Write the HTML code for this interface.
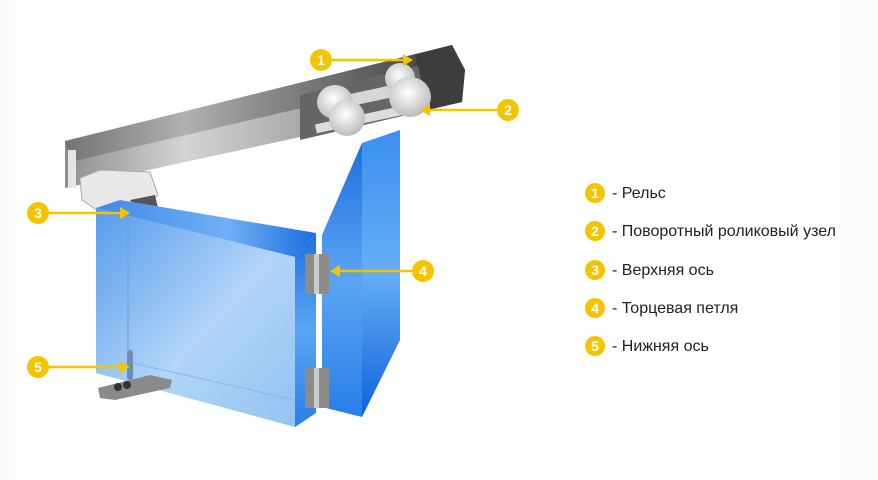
<!DOCTYPE html>
<html><head><meta charset="utf-8"><style>
html,body{margin:0;padding:0;background:#fff}
body{width:878px;height:480px;overflow:hidden}
svg{display:block}
text{font-family:"Liberation Sans",sans-serif}
</style></head><body>
<svg width="878" height="480" viewBox="0 0 878 480" xmlns="http://www.w3.org/2000/svg">
<defs>
<linearGradient id="bg" x1="0" x2="1" y1="0" y2="0">
<stop offset="0" stop-color="#f8f8f8"/><stop offset="0.025" stop-color="#fff"/><stop offset="0.95" stop-color="#fff"/><stop offset="0.96" stop-color="#fbfbfb"/></linearGradient>
<linearGradient id="rail" x1="0" x2="1" y1="0" y2="0">
<stop offset="0" stop-color="#6a6a6a"/><stop offset="0.3" stop-color="#a5a5a5"/><stop offset="0.5" stop-color="#7a7a7a"/><stop offset="0.8" stop-color="#4a4a4a"/><stop offset="1" stop-color="#333"/></linearGradient>
<linearGradient id="railf" x1="0" x2="1" y1="0" y2="0">
<stop offset="0" stop-color="#8e8e8e"/><stop offset="0.3" stop-color="#d4d4d4"/><stop offset="0.6" stop-color="#a8a8a8"/><stop offset="1" stop-color="#555"/></linearGradient>
<linearGradient id="glass" x1="0" x2="1" y1="0" y2="1">
<stop offset="0" stop-color="#4d96ea"/><stop offset="0.55" stop-color="#aed2f7"/><stop offset="1" stop-color="#8cc0f0"/></linearGradient>
<linearGradient id="gtop" x1="0" x2="1" y1="0" y2="0">
<stop offset="0" stop-color="#3e8ae6"/><stop offset="0.6" stop-color="#6fb0f5"/><stop offset="1" stop-color="#1a6ee0"/></linearGradient>
<linearGradient id="g2" x1="0" x2="0" y1="0" y2="1">
<stop offset="0" stop-color="#3b8ff0"/><stop offset="0.5" stop-color="#66adf5"/><stop offset="1" stop-color="#0d62dc"/></linearGradient>
<linearGradient id="gside" x1="0" x2="0" y1="0" y2="1">
<stop offset="0" stop-color="#1f6fe0"/><stop offset="0.5" stop-color="#5aa5f2"/><stop offset="1" stop-color="#2a7ee8"/></linearGradient>
<radialGradient id="wh" cx="0.45" cy="0.4" r="0.6"><stop offset="0" stop-color="#fff"/><stop offset="1" stop-color="#bcbcbc"/></radialGradient>
</defs>
<rect width="878" height="480" fill="url(#bg)"/>

<!-- back glass panel -->
<polygon points="362,143 400,130 400,340 362,417" fill="url(#g2)"/>
<polygon points="322,235 362,143 362,417 322,407" fill="url(#gside)"/>

<!-- rail -->
<polygon points="65,141 452,45 465,70 462,102 65,188" fill="url(#railf)"/>
<polygon points="65,141 452,45 465,70 70,162" fill="url(#rail)" opacity="0.75"/>
<polygon points="415,55 452,45 465,70 462,102 428,110" fill="#3d3d3d"/>
<polygon points="300,95 418,66 428,110 300,140" fill="#666"/>
<rect x="68" y="150" width="8" height="38" fill="#e6e6e6"/>
<!-- rollers -->
<rect x="320" y="92" width="95" height="12" fill="#d6d6d6" transform="rotate(-12 360 98)"/>
<rect x="315" y="115" width="90" height="9" fill="#ddd" transform="rotate(-12 360 120)"/>
<ellipse cx="400" cy="78" rx="15" ry="15" fill="url(#wh)"/>
<ellipse cx="335" cy="102" rx="18" ry="17" fill="url(#wh)"/>
<ellipse cx="347" cy="118" rx="18" ry="18" fill="url(#wh)"/>
<ellipse cx="410" cy="97" rx="21" ry="20" fill="url(#wh)"/>
<!-- top axis block -->
<polygon points="80,178 100,170 150,172 158,195 140,210 100,212 82,200" fill="#e8e8e8" stroke="#aaa" stroke-width="1"/>
<polygon points="130,200 155,195 158,208 140,212" fill="#555"/>

<!-- front glass panel -->
<polygon points="96,208 120,200 316,233 295,257" fill="url(#gtop)"/>
<polygon points="96,208 295,257 295,427 96,373" fill="url(#glass)" opacity="0.95"/>
<polygon points="295,257 316,233 316,413 295,427" fill="url(#gside)"/>
<line x1="128" y1="210" x2="128" y2="362" stroke="#6a9fd8" stroke-width="1"/>
<line x1="128" y1="362" x2="295" y2="400" stroke="#8ab8e6" stroke-width="1"/>
<!-- bottom axis -->
<polygon points="98,388 150,375 172,380 170,388 115,400 100,398" fill="#8a8a8a"/>
<circle cx="118" cy="387" r="4" fill="#333"/><circle cx="127" cy="385" r="4" fill="#333"/>
<rect x="127" y="350" width="6" height="30" rx="3" fill="#6e8fb5"/>
<!-- hinges -->
<rect x="305" y="254" width="24" height="40" fill="#8b8b8b"/><rect x="314" y="254" width="5" height="40" fill="#ccc"/>
<rect x="305" y="368" width="24" height="40" fill="#8b8b8b"/><rect x="314" y="368" width="5" height="40" fill="#ccc"/>

<!-- callouts -->
<g stroke="#f5c400" stroke-width="2.5" fill="#f5c400">
<line x1="330" y1="60" x2="405" y2="60"/><polygon points="413,60 403,54 403,66" stroke="none"/>
<line x1="497" y1="110" x2="428" y2="110"/><polygon points="420,110 430,104 430,116" stroke="none"/>
<line x1="48" y1="213" x2="122" y2="213"/><polygon points="130,213 120,207 120,219" stroke="none"/>
<line x1="412" y1="271" x2="338" y2="271"/><polygon points="330,271 340,265 340,277" stroke="none"/>
<line x1="48" y1="367" x2="122" y2="367"/><polygon points="130,367 120,361 120,373" stroke="none"/>
</g>
<g fill="#f5c400">
<circle cx="321" cy="60" r="11"/><circle cx="508" cy="110" r="11"/><circle cx="38" cy="213" r="11"/><circle cx="423" cy="271" r="11"/><circle cx="38" cy="367" r="11"/>
<circle cx="595" cy="193" r="10"/><circle cx="595" cy="231" r="10"/><circle cx="595" cy="270" r="10"/><circle cx="595" cy="308" r="10"/><circle cx="595" cy="346" r="10"/>
</g>
<g fill="#fff" font-size="14" font-weight="bold" text-anchor="middle">
<text x="321" y="65">1</text><text x="508" y="115">2</text><text x="38" y="218">3</text><text x="423" y="276">4</text><text x="38" y="372">5</text>
<text x="595" y="198">1</text><text x="595" y="236">2</text><text x="595" y="275">3</text><text x="595" y="313">4</text><text x="595" y="351">5</text>
</g>
<g fill="#222" font-size="16">
<text x="612" y="198">- Рельс</text>
<text x="612" y="236">- Поворотный роликовый узел</text>
<text x="612" y="275">- Верхняя ось</text>
<text x="612" y="313">- Торцевая петля</text>
<text x="612" y="351">- Нижняя ось</text>
</g>
</svg>
</body></html>
